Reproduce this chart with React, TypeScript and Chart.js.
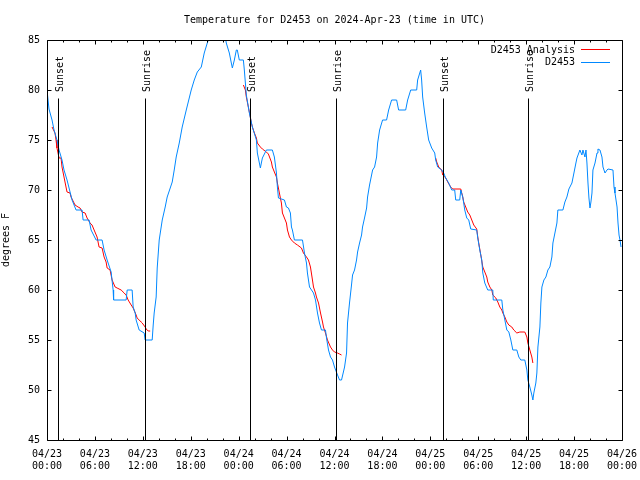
import React, { useEffect, useRef } from "react";
import { Chart, registerables } from "chart.js";

Chart.register(...registerables);

// ---- data (hours since 2024-04-23 00:00 UTC) ----
const TITLE = "Temperature for D2453 on 2024-Apr-23 (time in UTC)";
const Y_LABEL = "degrees F";
const MONTH = "04";
const START_DAY = 23;
const X_MIN = 0;
const X_MAX = 72;
const Y_MIN = 45;
const Y_MAX = 85;

const obsHours = [
  0, 0.25, 0.63, 0.88, 1.25, 1.51, 1.88, 2.13, 2.51, 3.14, 3.64, 4.39, 4.52, 5.27, 5.52, 6.15, 6.9, 7.15, 7.53, 8.03,
  8.28, 8.34, 9.91, 10.04, 10.66, 10.79, 11.04, 11.16, 11.54, 12.17, 12.29, 13.17, 13.3, 13.42, 13.67, 13.8, 14.05,
  14.43, 14.8, 15.05, 15.43, 15.68, 15.93, 16.18, 16.56, 16.93, 17.44, 18.06, 18.44, 18.82, 19.32, 19.69, 20.07,
  20.32, 20.82, 21.32, 21.83, 22.33, 22.45, 22.83, 23.08, 23.21, 23.46, 23.71, 23.83, 24.08, 24.59, 24.71, 24.84,
  24.96, 25.34, 25.72, 26.22, 26.34, 26.72, 26.84, 26.97, 27.47, 28.22, 28.47, 28.73, 28.85, 28.98, 29.73, 29.98,
  30.23, 30.48, 30.61, 30.73, 30.98, 31.99, 32.24, 32.49, 32.61, 32.87, 33.12, 33.37, 33.62, 33.87, 34.12, 34.37,
  34.87, 35.0, 35.25, 35.5, 35.75, 36.0, 36.38, 36.63, 36.88, 37.26, 37.51, 37.63, 37.88, 38.13, 38.26, 38.51,
  38.76, 38.89, 39.14, 39.39, 39.51, 39.76, 40.02, 40.14, 40.39, 40.77, 41.02, 41.27, 41.4, 41.65, 42.02, 42.52,
  42.78, 43.15, 43.78, 44.03, 44.91, 45.16, 45.54, 46.29, 46.41, 46.79, 46.91, 47.04, 47.29, 47.54, 47.79, 48.17,
  48.55, 48.67, 48.92, 49.42, 49.67, 49.93, 50.3, 50.68, 51.05, 51.18, 51.68, 51.81, 52.06, 52.18, 52.31, 52.56,
  52.81, 53.06, 53.81, 53.94, 54.19, 54.44, 54.57, 54.82, 55.19, 55.82, 55.88, 56.95, 57.08, 57.33, 57.58, 57.83,
  58.08, 58.33, 58.83, 59.08, 59.33, 59.83, 60.09, 60.21, 60.46, 60.71, 60.84, 60.96, 61.21, 61.34, 61.47, 61.72,
  61.84, 61.97, 62.22, 62.47, 62.72, 62.97, 63.22, 63.35, 63.6, 63.85, 63.97, 64.6, 64.85, 65.1, 65.35, 65.73,
  65.98, 66.23, 66.36, 66.73, 66.98, 67.11, 67.36, 67.49, 67.61, 67.74, 67.86, 67.99, 68.11, 68.24, 68.36, 68.62,
  68.87, 68.99, 69.24, 69.49, 69.62, 69.87, 70.12, 70.25, 70.87, 71.0, 71.12, 71.38, 71.5, 71.63, 71.75, 71.88,
];

const obsTemps = [
  80, 78.1, 77, 76, 75, 74, 73, 72, 71, 69, 68, 68, 67, 67, 66, 65, 65, 64, 63, 61.8,
  60, 59, 59, 60, 60, 58.3, 57.7, 57, 56, 55.7, 55, 55, 56.5, 57.7, 59.3, 62.2, 65,
  67, 68.3, 69.3, 70.2, 70.8, 72, 73.3, 74.7, 76.3, 78, 80, 81, 81.8, 82.3, 83.7, 84.7,
  85.3, 86.5, 87, 86, 85.3, 84.7, 83.7, 82.7, 82.2, 83, 84, 84, 83, 83, 82, 80.7,
  79.5, 77.7, 76.3, 75, 73.7, 72.2, 72.7, 73.2, 74, 74, 73.3, 71.7, 70.3, 69.2, 69, 68.3,
  68.2, 67.7, 66.3, 66, 65, 65, 63.7, 62.7, 61.7, 60.3, 60, 59.7, 59, 57.7, 56.7, 56,
  56, 55.2, 54, 53.3, 53, 52.3, 51.5, 51, 51, 52.3, 53.7, 56.7, 58.7, 60.5, 61.5, 62,
  63, 63.8, 64.7, 65.5, 66.3, 67.2, 68.2, 69.3, 70.5, 72, 72.3, 73.3, 74.7, 76, 77, 77,
  78, 79, 79, 78, 78, 79, 80, 80, 81, 82, 81, 79.3, 77.7, 76.3, 75, 74.2,
  73.7, 73, 72.3, 72, 71.7, 71.2, 70.7, 70, 70, 69, 69, 70, 69.3, 68.7, 68, 67.2,
  67, 66.1, 66, 65.2, 64, 63, 61.7, 60.7, 60, 60, 59, 59, 58, 57, 56, 55.8,
  55, 54, 54, 53.3, 53, 53, 52, 51, 50.3, 49.5, 49, 49.7, 50.7, 51.7, 54.3, 56.3,
  58.7, 60.3, 61, 61.3, 62, 62.3, 63.3, 64.7, 65.7, 66.7, 68, 68, 68.8, 69.3, 70.1, 70.7,
  71.7, 72.7, 73.2, 74, 73.5, 74, 73.3, 74, 72.7, 70.7, 69.2, 68.2, 68.8, 69.7, 72, 72.7,
  73.7, 74.1, 74, 73.3, 72.3, 71.7, 72, 72.1, 72, 70.3, 69.7, 68.3, 66.7, 65.5, 65, 64.3,
];

// analysis (null = break between nights)
const anaHours = [
  0.63, 0.75, 1.0, 1.13, 1.25, 1.51, 1.76, 1.88, 2.13, 2.38, 2.51, 2.89, 3.01, 3.51, 3.89, 4.14, 4.39, 4.77,
  5.02, 5.39, 5.64, 5.9, 6.27, 6.52, 6.9, 7.15, 7.4, 7.53, 7.9, 8.15, 8.53, 8.78, 9.28, 9.66, 9.91, 10.16,
  10.54, 10.79, 11.16, 11.29, 11.79, 11.92, 12.29, 12.42, 12.67, 12.92,
  18,
  24.59, 24.84, 24.96, 25.21, 25.46, 25.59, 25.72, 25.97, 26.22, 26.34, 26.72, 26.97, 27.47, 27.72, 28.1, 28.22,
  28.47, 28.73, 28.85, 29.1, 29.35, 29.48, 29.73, 29.98, 30.11, 30.36, 30.61, 30.98, 31.36, 31.86, 32.11, 32.49,
  32.74, 32.99, 33.24, 33.37, 33.62, 33.74, 34.0, 34.25, 34.5, 34.62, 34.87, 35.12, 35.5, 35.75, 36.0, 36.38,
  36.63, 36.88,
  42,
  48.67, 48.8, 49.05, 49.42, 49.55, 49.93, 50.18, 50.55, 50.8, 51.81, 51.93, 52.06, 52.18, 52.43, 52.68, 52.94,
  53.19, 53.44, 53.81, 53.94, 54.06, 54.32, 54.57, 54.82, 55.07, 55.19, 55.45, 55.7, 55.82, 56.2, 56.45, 56.7,
  56.95, 57.08, 57.33, 57.58, 57.83, 58.2, 58.45, 58.83, 59.21, 59.83, 60.09, 60.21, 60.46, 60.71, 60.84,
];

const anaTemps = [
  76.3, 76.3, 75.7, 75, 74.2, 73.2, 73.2, 72.3, 71.3, 70.3, 69.8, 69.7, 69.3, 68.5, 68.3, 68.2, 67.8, 67.7,
  67.2, 66.7, 66.5, 66, 65.3, 64.3, 64.2, 63.3, 62.8, 62.2, 62, 61, 60.3, 60.2, 60, 59.7, 59.5, 59,
  58.5, 58.2, 57.5, 57.2, 56.8, 56.7, 56.3, 56.1, 55.9, 55.9,
  null,
  80.5, 80, 79.3, 78.3, 77.3, 76.7, 76.3, 75.7, 75.2, 74.7, 74.3, 74.1, 73.8, 73.6, 72.8, 72.3,
  71.8, 71.3, 70.7, 69.7, 68.7, 67.7, 67.2, 66.7, 66, 65.3, 65, 64.7, 64.5, 64.2, 63.7, 63.3,
  63, 62.3, 61, 60.3, 59.7, 59.3, 58.7, 57.7, 56.8, 56.3, 55.7, 55, 54.3, 54, 53.8, 53.7,
  53.6, 53.5,
  null,
  73.2, 72.8, 72.3, 72, 71.5, 71.2, 70.8, 70.3, 70.1, 70.1, 69.7, 69.3, 68.8, 68.3, 67.8, 67.5,
  67, 66.5, 66.1, 65.3, 64.7, 63.5, 62.3, 61.8, 61.3, 60.8, 60.3, 60, 59.5, 59.2, 58.8, 58.3,
  58, 57.7, 57.3, 56.8, 56.5, 56.3, 56, 55.7, 55.8, 55.8, 55.3, 54.7, 54, 53.3, 52.7,
];

const eventHours = [1.38, 12.29, 25.46, 36.25, 49.55, 60.21];
const eventNames = ["Sunset", "Sunrise", "Sunset", "Sunrise", "Sunset", "Sunrise"];
const EVENT_LINE_TOP = 79.2;

const SERIES_NAMES = ["D2453 Analysis", "D2453"];
const ANA_COLOR = "rgb(255,0,0)";
const OBS_COLOR = "rgb(0,136,255)";
const FONT = '"DejaVu Sans Mono", "Liberation Mono", monospace';

const framePlugin = {
  id: "gnuFrame",
  afterDatasetsDraw(chart: any) {
    const { ctx, chartArea: a, scales } = chart;
    const x = scales.x;
    const y = scales.y;
    const L = Math.round(a.left) + 0.5;
    const R = Math.round(a.right) + 0.5;
    const T = Math.round(a.top) + 0.5;
    const B = Math.round(a.bottom) + 0.5;
    ctx.save();
    ctx.strokeStyle = "#000";
    ctx.fillStyle = "#000";
    ctx.lineWidth = 1;

    // sunrise / sunset markers
    ctx.font = `10px ${FONT}`;
    eventHours.forEach((h, i) => {
      const px = Math.round(x.getPixelForValue(h)) + 0.5;
      ctx.beginPath();
      ctx.moveTo(px, B);
      ctx.lineTo(px, Math.round(y.getPixelForValue(EVENT_LINE_TOP)) + 0.5);
      ctx.stroke();
      ctx.save();
      ctx.translate(px + 1.5, a.top + 52);
      ctx.rotate(-Math.PI / 2);
      ctx.textAlign = "left";
      ctx.textBaseline = "middle";
      ctx.fillText(eventNames[i], 0, 0);
      ctx.restore();
    });

    // border
    ctx.beginPath();
    ctx.rect(L, T, R - L, B - T);
    ctx.stroke();

    // tics (inward, mirrored)
    ctx.beginPath();
    x.ticks.forEach((t: any) => {
      const px = Math.round(x.getPixelForValue(t.value)) + 0.5;
      const len = t.value % 6 === 0 ? 4 : 2;
      ctx.moveTo(px, B);
      ctx.lineTo(px, B - len);
      ctx.moveTo(px, T);
      ctx.lineTo(px, T + len);
    });
    y.ticks.forEach((t: any) => {
      const py = Math.round(y.getPixelForValue(t.value)) + 0.5;
      ctx.moveTo(L, py);
      ctx.lineTo(L + 4, py);
      ctx.moveTo(R, py);
      ctx.lineTo(R - 4, py);
    });
    ctx.stroke();

    // key
    const colors = [ANA_COLOR, OBS_COLOR];
    SERIES_NAMES.forEach((name, i) => {
      const ky = a.top + 10 + i * 12.5;
      ctx.fillStyle = "#000";
      ctx.textAlign = "right";
      ctx.textBaseline = "middle";
      ctx.fillText(name, a.right - 47, ky);
      ctx.strokeStyle = colors[i];
      ctx.beginPath();
      ctx.moveTo(a.right - 41, Math.round(ky) - 0.5);
      ctx.lineTo(a.right - 12, Math.round(ky) - 0.5);
      ctx.stroke();
    });
    ctx.restore();
  },
};

function pad(n: number) {
  return n < 10 ? `0${n}` : `${n}`;
}

export default function App() {
  const ref = useRef<HTMLCanvasElement | null>(null);

  useEffect(() => {
    document.body.style.margin = "0";
    if (!ref.current) return;
    const obsData = obsHours.map((h, i) => ({ x: h, y: obsTemps[i] }));
    const anaData = anaHours.map((h, i) => ({ x: h, y: anaTemps[i] }));
    const chart = new Chart(ref.current, {
      type: "line",
      data: {
        datasets: [
          {
            label: SERIES_NAMES[1],
            data: obsData as any,
            borderColor: OBS_COLOR,
            borderWidth: 1,
            pointRadius: 0,
            tension: 0,
            fill: false,
          },
          {
            label: SERIES_NAMES[0],
            data: anaData as any,
            borderColor: ANA_COLOR,
            borderWidth: 1,
            pointRadius: 0,
            tension: 0,
            fill: false,
            spanGaps: false,
          },
        ],
      },
      options: {
        animation: false,
        responsive: true,
        maintainAspectRatio: false,
        events: [],
        layout: { padding: { left: 0, right: 18, top: 0, bottom: 0 } },
        plugins: {
          legend: { display: false },
          tooltip: { enabled: false },
          title: {
            display: true,
            text: TITLE,
            fullSize: false,
            color: "#000",
            font: { family: FONT, size: 10, weight: "normal", lineHeight: 1.2 },
            padding: { top: 14, bottom: 14 },
          },
        },
        scales: {
          x: {
            type: "linear",
            min: X_MIN,
            max: X_MAX,
            grid: { display: false, drawTicks: false },
            border: { display: false },
            ticks: {
              stepSize: 2,
              autoSkip: false,
              maxRotation: 0,
              minRotation: 0,
              padding: 8,
              color: "#000",
              font: { family: FONT, size: 10, lineHeight: 1.2 },
              callback: (v: any) => {
                const val = Number(v);
                if (val % 6 !== 0) return "";
                const day = START_DAY + Math.floor(val / 24);
                return [`${MONTH}/${day}`, `${pad(val % 24)}:00`];
              },
            },
            afterFit: (s: any) => {
              s.height = 40;
              s.paddingLeft = 0;
              s.paddingRight = 0;
            },
          },
          y: {
            type: "linear",
            min: Y_MIN,
            max: Y_MAX,
            grid: { display: false, drawTicks: false },
            border: { display: false },
            ticks: {
              stepSize: 5,
              padding: 7,
              color: "#000",
              font: { family: FONT, size: 10 },
            },
            title: {
              display: true,
              text: Y_LABEL,
              color: "#000",
              font: { family: FONT, size: 10, lineHeight: 1.2 },
              padding: { top: 0, bottom: 0 },
            },
            afterFit: (s: any) => {
              s.width = 47;
              s.paddingTop = 0;
              s.paddingBottom = 0;
            },
          },
        },
      },
      plugins: [framePlugin],
    });
    return () => chart.destroy();
  }, []);

  return (
    <div style={{ width: 640, height: 480, position: "relative" }}>
      <canvas ref={ref} />
    </div>
  );
}
